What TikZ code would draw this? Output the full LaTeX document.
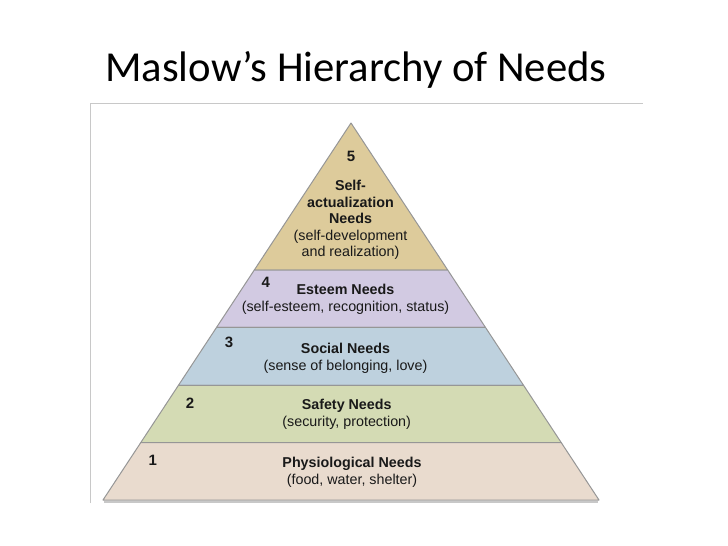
\documentclass[tikz,border=0pt]{standalone}
\usepackage{fontspec}
\setmainfont{Carlito}
\newfontfamily\needsfont{Liberation Sans}
\definecolor{selfcol}{RGB}{221,203,155}
\definecolor{esteemcol}{RGB}{210,202,226}
\definecolor{socialcol}{RGB}{190,209,222}
\definecolor{safetycol}{RGB}{212,219,180}
\definecolor{physiocol}{RGB}{233,219,206}
\definecolor{bandline}{RGB}{150,150,150}
\definecolor{framecol}{RGB}{200,200,200}
\definecolor{inkcol}{RGB}{25,25,25}
\begin{document}
\begin{tikzpicture}[x=1pt,y=-1pt,
    band/.style={draw=bandline,line width=1pt,line join=round},
    levelnum/.style={font=\needsfont\bfseries\fontsize{15}{17}\selectfont,text=inkcol,inner sep=0pt},
    needtext/.style={font=\needsfont\fontsize{14.3}{16.6}\selectfont,text=inkcol,align=center,inner sep=0pt}]
    \useasboundingbox (0,0) rectangle (728,546);
    % slide title
    \node[anchor=base west,inner sep=0pt,font=\fontsize{42.7}{50}\selectfont] (title) at (105,81) {Maslow’s Hierarchy of Needs};
    % picture frame
    \draw[framecol,line width=1pt] (90,503) -- (90,103) -- (643,103);
    % bands, from the top down
    \foreach \ya/\yb/\col in {123/270/selfcol,270/327.3/esteemcol,327.3/385.3/socialcol,385.3/442.7/safetycol,442.7/500/physiocol} {
        \pgfmathsetmacro\xa{0.65782*(\ya-123)}
        \pgfmathsetmacro\xb{0.65782*(\yb-123)}
        \filldraw[band,fill=\col] (351-\xa,\ya) -- (351+\xa,\ya) -- (351+\xb,\yb) -- (351-\xb,\yb) -- cycle;
    }
    \draw[framecol,line width=2pt] (104,501.5) -- (598,501.5);
    % level numbers
    \node[levelnum] (num5) at (351,156.7) {5};
    \node[levelnum] (num4) at (265.7,282.7) {4};
    \node[levelnum] (num3) at (229,342.3) {3};
    \node[levelnum] (num2) at (190,403.3) {2};
    \node[levelnum] (num1) at (152.7,460) {1};
    % level texts
    \node[needtext] (self) at (350.5,220) {\textbf{Self-}\\\textbf{actualization}\\\textbf{Needs}\\(self-development\\and realization)};
    \node[needtext] (esteem) at (345.5,299.5) {\textbf{Esteem Needs}\\(self-esteem, recognition, status)};
    \node[needtext] (social) at (345.5,358) {\textbf{Social Needs}\\(sense of belonging, love)};
    \node[needtext] (safety) at (346.7,414.3) {\textbf{Safety Needs}\\(security, protection)};
    \node[needtext] (physio) at (352,472.3) {\textbf{Physiological Needs}\\(food, water, shelter)};
\end{tikzpicture}
\end{document}
